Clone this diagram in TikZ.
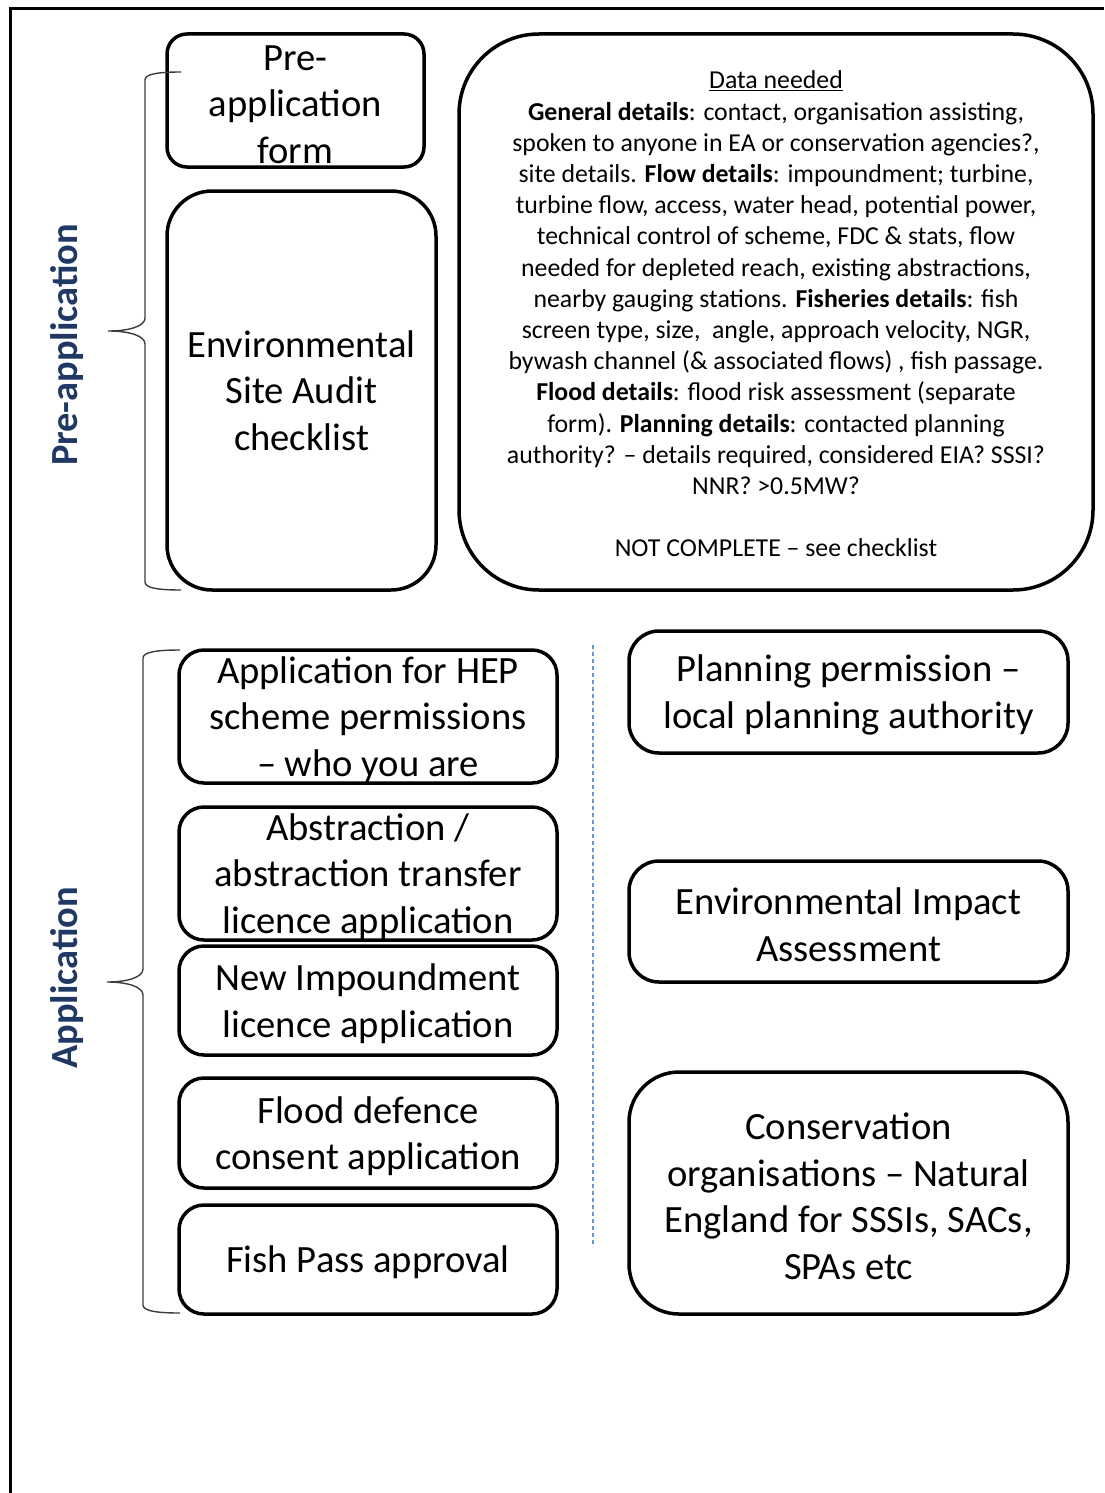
\documentclass[tikz,border=0pt]{standalone}
\usepackage{fontspec}
\setmainfont{Carlito}
\definecolor{navy}{RGB}{31,56,100}
\definecolor{dashblue}{RGB}{100,150,212}
\definecolor{bracegrey}{RGB}{60,60,60}
\newcommand\bigtxt{\fontsize{38.6}{46.5}\selectfont}
\newcommand\smalltxt{\fontsize{25.8}{31.2}\selectfont}
\newcommand\sidetxt{\fontsize{38.4}{44}\selectfont\bfseries}
\newcommand\up{\rule{0pt}{0.85em}}
\begin{document}
\begin{tikzpicture}[x=1pt,y=-1pt,
  box/.style={draw, line width=3.5pt, align=center, inner sep=0pt, font=\bigtxt},
  sidelabel/.style={rotate=90, text=navy, font=\sidetxt, inner sep=0pt},
  bracestyle/.style={draw=bracegrey, line width=1.4pt},
  sepline/.style={draw=dashblue, line width=2pt, dash pattern=on 4pt off 3pt}]
\useasboundingbox (0,0) rectangle (1104,1493);
% frame
\draw[line width=3pt] (10,1493) -- (10,9) -- (1104,9);
% pre-application boxes
\node[box, rounded corners=20, minimum width=257, minimum height=133] (pre) at (295.5,100.5) {\up Pre-\\application\\form};
\node[box, rounded corners=45, minimum width=269, minimum height=399] (audit) at (301.5,390.5) {Environmental\\Site Audit\\checklist};
\node[box, rounded corners=80, minimum width=634, minimum height=556, font=\smalltxt] (data) at (776,312) {\up\underline{Data needed}\\
\textbf{General details}: contact, organisation assisting,\\
spoken to anyone in EA or conservation agencies?,\\
site details. \textbf{Flow details}: impoundment; turbine,\\
turbine flow, access, water head, potential power,\\
technical control of scheme, FDC \& stats, flow\\
needed for depleted reach, existing abstractions,\\
nearby gauging stations. \textbf{Fisheries details}: fish\\
screen type, size,\ \ angle, approach velocity, NGR,\\
bywash channel (\& associated flows) , fish passage.\\
\textbf{Flood details}: flood risk assessment (separate\\
form). \textbf{Planning details}: contacted planning\\
authority? – details required, considered EIA? SSSI?\\
NNR? >0.5MW?\\[31.2pt]
NOT COMPLETE – see checklist};
% application boxes
\node[box, rounded corners=25, minimum width=378, minimum height=133] (hep) at (368,716.5) {\up Application for HEP\\scheme permissions\\– who you are};
\node[box, rounded corners=25, minimum width=378, minimum height=133] (abs) at (368,873.5) {\up Abstraction /\\abstraction transfer\\licence application};
\node[box, rounded corners=25, minimum width=378, minimum height=109] (imp) at (368,1000.5) {\up New Impoundment\\licence application};
\node[box, rounded corners=25, minimum width=378, minimum height=110] (flood) at (368,1133) {\up Flood defence\\consent application};
\node[box, rounded corners=25, minimum width=378, minimum height=109] (fish) at (368,1259.5) {\up Fish Pass approval};
\node[box, rounded corners=30, minimum width=439, minimum height=122] (plan) at (848.5,692) {\up Planning permission –\\local planning authority};
\node[box, rounded corners=30, minimum width=439, minimum height=121] (eia) at (848.5,921.5) {\up Environmental Impact\\Assessment};
\node[box, rounded corners=50, minimum width=439, minimum height=242] (cons) at (848.5,1193) {\up Conservation\\organisations – Natural\\England for SSSIs, SACs,\\SPAs etc};
% side labels
\node[sidelabel] (lpre) at (67,345) {Pre-application};
\node[sidelabel] (lapp) at (67,978) {Application};
% braces
\draw[bracestyle] (181,72) .. controls (158,72) and (145,74) .. (145,80) -- (145,318)
  .. controls (145,326) and (130,331) .. (108,331)
  .. controls (130,331) and (145,336) .. (145,344) -- (145,582)
  .. controls (145,588) and (158,590) .. (181,590);
\draw[bracestyle] (180,650) .. controls (157,650) and (143,652) .. (143,658) -- (143,969)
  .. controls (143,977) and (128,982) .. (107,982)
  .. controls (128,982) and (143,987) .. (143,995) -- (143,1305)
  .. controls (143,1311) and (157,1313) .. (180,1313);
% separator
\coordinate (septop) at (593,645);
\coordinate (sepbot) at (593,1247);
\draw[sepline] (septop) -- (sepbot);
\end{tikzpicture}
\end{document}
